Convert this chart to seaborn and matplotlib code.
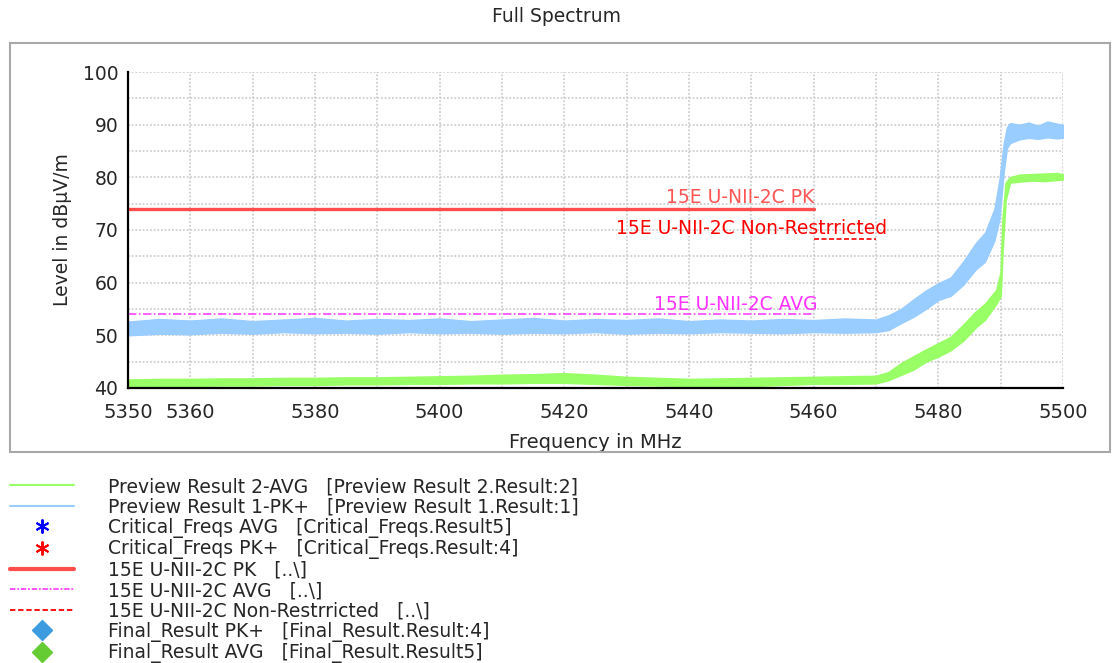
import matplotlib
matplotlib.use('agg')
import matplotlib.pyplot as plt
from matplotlib.lines import Line2D
from matplotlib.patches import Rectangle
import seaborn as sns
import pandas as pd

# ---- data ----
# Preview Result 1-PK+ (light blue trace), envelope lo/hi in dBuV/m
pk_freq = [5350, 5355, 5360, 5365, 5370, 5375, 5380, 5385, 5390, 5395, 5400, 5405,
           5410, 5415, 5420, 5425, 5430, 5435, 5440, 5445, 5450, 5455, 5460, 5465,
           5470, 5472, 5474, 5476, 5478, 5480, 5482, 5484, 5486, 5487.5, 5489,
           5489.8, 5490.5, 5491, 5491.5, 5493, 5494.5, 5496, 5497.5, 5499, 5500]
pk_hi = [52.6, 53.1, 52.8, 53.2, 52.7, 53.0, 53.3, 52.8, 53.1, 52.9, 53.2, 52.7,
         53.0, 53.3, 52.8, 53.1, 52.9, 53.2, 52.7, 53.0, 52.8, 53.1, 52.9, 53.2,
         53.0, 53.8, 55.0, 56.8, 58.5, 59.9, 61.0, 64.0, 67.5, 69.5, 74.0,
         79.5, 86.5, 89.5, 90.3, 90.0, 90.4, 89.8, 90.6, 90.2, 90.0]
pk_lo = [50.0, 50.3, 50.2, 50.5, 50.3, 50.6, 50.4, 50.5, 50.3, 50.6, 50.4, 50.5,
         50.3, 50.5, 50.4, 50.6, 50.3, 50.5, 50.4, 50.6, 50.5, 50.4, 50.6, 50.5,
         50.6, 51.0, 52.3, 53.5, 55.0, 56.7, 57.5, 59.6, 62.5, 64.0, 68.0,
         72.0, 81.0, 85.5, 86.5, 87.2, 87.5, 87.3, 87.6, 87.4, 87.5]

# Preview Result 2-AVG (light green trace)
avg_freq = [5350, 5355, 5360, 5365, 5370, 5375, 5380, 5385, 5390, 5395, 5400, 5405,
            5410, 5415, 5420, 5425, 5430, 5435, 5440, 5445, 5450, 5455, 5460, 5465,
            5470, 5472, 5474, 5476, 5478, 5480, 5482, 5484, 5486, 5487.5, 5489.3,
            5490, 5490.3, 5490.8, 5491.5, 5493, 5495, 5497, 5499, 5500]
avg_hi = [41.6, 41.7, 41.7, 41.8, 41.8, 41.9, 41.9, 42.0, 42.0, 42.1, 42.2, 42.3,
          42.5, 42.6, 42.8, 42.5, 42.1, 41.9, 41.7, 41.8, 41.9, 42.0, 42.1, 42.2,
          42.3, 43.0, 44.7, 46.0, 47.3, 48.5, 49.7, 52.0, 54.5, 56.0, 58.6,
          62.0, 72.0, 79.0, 80.0, 80.5, 80.6, 80.7, 80.8, 80.6]
avg_lo = [40.3, 40.4, 40.4, 40.5, 40.5, 40.6, 40.6, 40.7, 40.7, 40.8, 40.8, 40.9,
          40.9, 41.0, 41.0, 40.8, 40.6, 40.5, 40.4, 40.4, 40.4, 40.6, 40.8, 40.8,
          40.9, 41.5, 42.5, 43.5, 45.0, 46.0, 47.2, 49.0, 51.5, 53.0, 56.0,
          57.5, 66.0, 75.7, 79.0, 79.2, 79.4, 79.3, 79.5, 79.6]

# limit lines
lim_pk_freq = [5350, 5460]
lim_pk = [74, 74]
lim_avg_freq = [5350, 5460]
lim_avg = [54, 54]
lim_nr_freq = [5460, 5470]
lim_nr = [68.2, 68.2]

x_ticks = [5350, 5360, 5370, 5380, 5390, 5400, 5410, 5420, 5430, 5440, 5450,
           5460, 5470, 5480, 5490, 5500]
x_tick_labels = ['5350', '5360', '', '5380', '', '5400', '', '5420', '', '5440', '',
                 '5460', '', '5480', '', '5500']
y_ticks = [40, 50, 60, 70, 80, 90, 100]
y_minor = [45, 55, 65, 75, 85, 95]

legend_labels = [
    'Preview Result 2-AVG   [Preview Result 2.Result:2]',
    'Preview Result 1-PK+   [Preview Result 1.Result:1]',
    'Critical_Freqs AVG   [Critical_Freqs.Result5]',
    'Critical_Freqs PK+   [Critical_Freqs.Result:4]',
    '15E U-NII-2C PK   [..\\]',
    '15E U-NII-2C AVG   [..\\]',
    '15E U-NII-2C Non-Restrricted   [..\\]',
    'Final_Result PK+   [Final_Result.Result:4]',
    'Final_Result AVG   [Final_Result.Result5]',
]

GREEN = '#99ff66'
BLUE = '#99ccff'
RED_PK = '#ff4d4d'
MAGENTA = '#ff44ff'
RED = '#ff0000'

sns.set_style('white')
plt.rcParams['font.family'] = ['DejaVu Sans']

fig = plt.figure(figsize=(11.12, 6.63), dpi=100)
ax = fig.add_axes([0.1151, 0.4148, 0.8408, 0.4766])

# outer frame of the chart area
fig.patches.append(Rectangle((0.009, 0.3183), 0.989, 0.6169, transform=fig.transFigure,
                             fill=False, edgecolor='#a8a8a8', linewidth=1.5))

ax.fill_between(pk_freq, pk_lo, pk_hi, color=BLUE, linewidth=1, zorder=3)
ax.fill_between(avg_freq, avg_lo, avg_hi, color=GREEN, linewidth=1.2, edgecolor=GREEN, zorder=4)

pk_df = pd.DataFrame({'f': lim_pk_freq, 'v': lim_pk})
avg_df = pd.DataFrame({'f': lim_avg_freq, 'v': lim_avg})
nr_df = pd.DataFrame({'f': lim_nr_freq, 'v': lim_nr})
sns.lineplot(data=pk_df, x='f', y='v', color=RED_PK, linewidth=2.4, ax=ax, zorder=5)
sns.lineplot(data=avg_df, x='f', y='v', color=MAGENTA, linewidth=1.2, ax=ax, zorder=5,
             linestyle=(0, (5, 1.5, 1, 1.5)))
sns.lineplot(data=nr_df, x='f', y='v', color=RED, linewidth=1.2, ax=ax, zorder=5,
             linestyle=(0, (3, 1.5)))

ax.text(5448.2, 76.1, '15E U-NII-2C PK', color='#ff5555', fontsize=13.5,
        ha='center', va='center', zorder=6)
ax.text(5450, 70.2, '15E U-NII-2C Non-Restrricted', color=RED, fontsize=13.5,
        ha='center', va='center', zorder=6)
ax.text(5447.5, 55.8, '15E U-NII-2C AVG', color='#ff33ff', fontsize=13.5,
        ha='center', va='center', zorder=6)

ax.set_xlim(5350, 5500)
ax.set_ylim(40, 100)
ax.set_xticks(x_ticks)
ax.set_xticklabels(x_tick_labels)
ax.set_yticks(y_ticks)
ax.set_yticks(y_minor, minor=True)
ax.grid(which='both', color='#c8c8c8', linestyle=(0, (1.2, 1.2)), linewidth=1.1, zorder=0)
ax.set_axisbelow(True)

for s in ['top', 'right']:
    ax.spines[s].set_visible(False)
for s in ['left', 'bottom']:
    ax.spines[s].set_color('black')
    ax.spines[s].set_linewidth(1.6)
    ax.spines[s].set_zorder(7)

ax.tick_params(which='both', direction='inout', length=10, width=1.6, color='black')
ax.tick_params(axis='x', labelsize=14, pad=6)
ax.tick_params(axis='y', labelsize=13.5, pad=2)

ax.set_xlabel('Frequency in MHz', fontsize=14, labelpad=8)
ax.set_ylabel('Level in dB\u00b5V/m', fontsize=13.5, labelpad=8)

fig.text(0.5, 1 - 16 / 663, 'Full Spectrum', ha='center', va='center', fontsize=13.5)

handles = [
    Line2D([], [], color=GREEN, linewidth=1.5),
    Line2D([], [], color=BLUE, linewidth=1.5),
    Line2D([], [], color='#0000ff', marker=(6, 2, 0), markersize=10, mew=1.4, linestyle='None'),
    Line2D([], [], color='#ff0000', marker=(6, 2, 0), markersize=10, mew=1.4, linestyle='None'),
    Line2D([], [], color=RED_PK, linewidth=3),
    Line2D([], [], color=MAGENTA, linewidth=1.3, linestyle=(0, (3, 1, 1, 1))),
    Line2D([], [], color=RED, linewidth=1.3, linestyle=(0, (3, 1.5))),
    Line2D([], [], color='#3d9be0', marker='D', markersize=10, linestyle='None'),
    Line2D([], [], color='#66cc33', marker='D', markersize=10, linestyle='None'),
]
fig.legend(handles, legend_labels, loc='upper left', bbox_to_anchor=(0.009, 0.2805),
           frameon=False, fontsize=13.5, borderaxespad=0, borderpad=0,
           handlelength=3.4, handletextpad=1.85, labelspacing=0.075)

fig.savefig('out.png', dpi=100)
